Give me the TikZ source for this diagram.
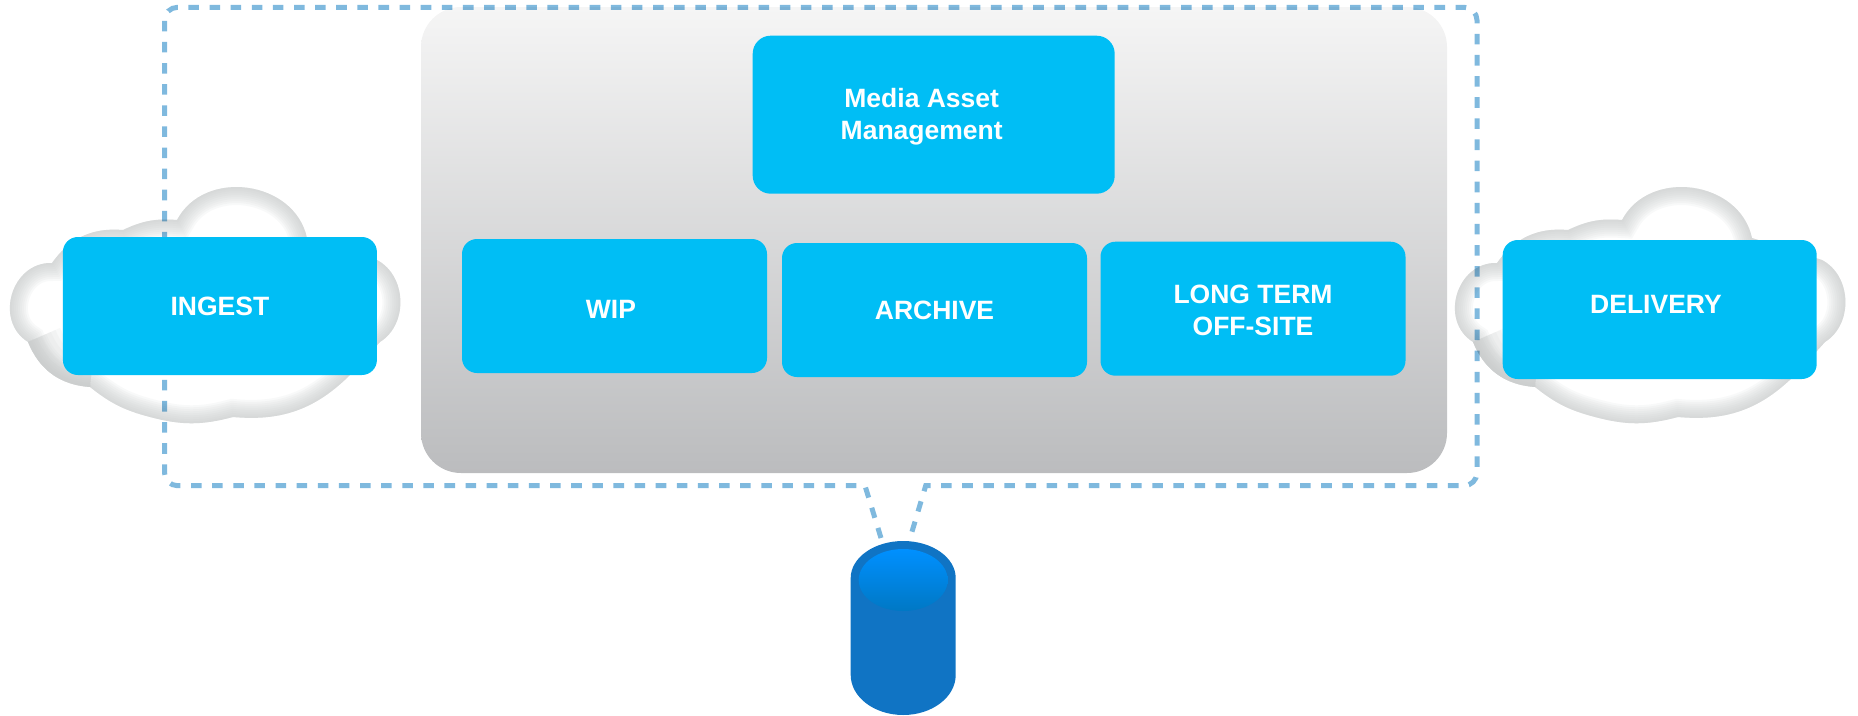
\documentclass[tikz,border=0pt]{standalone}
\usepackage{fontspec}
\setmainfont{Liberation Sans}
\usetikzlibrary{shapes.geometric}
\definecolor{boxblue}{HTML}{00BEF5}
\definecolor{dashblue}{HTML}{7FB9DE}
\definecolor{storeblue}{HTML}{1074C4}
\definecolor{storelight}{HTML}{0090FF}
\definecolor{storedark}{HTML}{0078C4}
\definecolor{cloudgray}{HTML}{C4C7C7}
\definecolor{paneltop}{HTML}{F5F5F5}
\definecolor{panelbottom}{HTML}{BBBCBE}
\newcommand{\cloudoutline}{
    (28,342) to[bend left=75, looseness=1.25] (52,263)
    to[bend left=30] (123,230)
    to[bend left=15] (177,220)
    to[bend left=70, looseness=1.15] (307,238)
    -- (377,260)
    to[bend left=60, looseness=1.05] (380,342)
    -- (350,375)
    to[bend left=25] (233,417)
    to[bend left=15] (150,417)
    to[bend left=12] (90,387)
    to[bend left=32] (28,342) -- cycle}
\newcommand{\drawcloud}[1]{
    \begin{scope}[shift={(#1,0)}]
        \clip \cloudoutline;
        \fill[white] \cloudoutline;
        \foreach \w in {36,32,...,4}
            \draw[cloudgray, opacity=0.1, line width=\w pt] \cloudoutline;
        \foreach \w in {70,60,...,20}
            \draw[cloudgray, opacity=0.1, line width=\w pt] (90,387) to[bend left=32] (28,342);
    \end{scope}
}

\begin{document}
\begin{tikzpicture}[
    x=1pt, y=-1pt,
    every node/.style = {inner sep=0pt, outer sep=0pt},
    boxnode/.style = {fill=boxblue, rounded corners=15pt,
        minimum width=305pt, minimum height=134pt},
    boxtext/.style = {text=white, align=center,
        font=\fontsize{26.5}{32}\selectfont\bfseries},
    boundary/.style = {dashblue, line width=5pt, dash pattern=on 10.56pt off 10.56pt,
        blend mode=multiply}
    ]
    \useasboundingbox (0,0) rectangle (1858,715);

    \node (panel) at (934,240) [minimum width=1026pt, minimum height=466pt,
        rounded corners=40pt, top color=paneltop, bottom color=panelbottom] {};

    \drawcloud{0}
    \drawcloud{1445}

    % storage cylinder
    \fill[storeblue] (850.7,578) .. controls (850.7,557.6) and (874.2,541) .. (903.2,541)
        .. controls (932.2,541) and (955.7,557.6) .. (955.7,578) -- (955.7,675)
        .. controls (955.7,697) and (932.2,715) .. (903.2,715)
        .. controls (874.2,715) and (850.7,697) .. (850.7,675) -- cycle;
    \node (storetop) at (903.2,580) [ellipse, minimum width=89pt, minimum height=62pt,
        top color=storelight, bottom color=storedark] {};

    \coordinate (linkleft) at (881,538);
    \coordinate (linkright) at (911,535);
    \draw[boundary] (linkleft) -- (865,485.7) [rounded corners=13pt] -- (164.5,485.7) -- (164.5,7.3)
        -- (1477,7.3) -- (1477,485.7) [sharp corners] -- (925.7,485.7) -- (linkright);

    \node[boxnode, minimum width=314pt, minimum height=138pt] (ingest) at (219.9,306) {};
    \node[boxnode, minimum width=314pt, minimum height=139pt] (delivery) at (1659.7,309.5) {};
    \node[boxnode, minimum width=362pt, minimum height=158pt, rounded corners=18pt] (mam) at (933.7,114.7) {};
    \node[boxnode] (wip) at (614.5,306) {};
    \node[boxnode] (archive) at (934.5,310) {};
    \node[boxnode] (longterm) at (1253,308.7) {};

    \node[boxtext] (ingesttext) at (219.9,306) {INGEST};
    \node[boxtext] (deliverytext) at (1656,304.5) {DELIVERY};
    \node[boxtext] (mamtext) at (921.7,116.7) {Media Asset\\Management};
    \node[boxtext] (wiptext) at (611,309.5) {WIP};
    \node[boxtext] (archivetext) at (934.5,310) {ARCHIVE};
    \node[boxtext] (longtermtext) at (1253,310.5) {LONG TERM\\OFF-SITE};
\end{tikzpicture}
\end{document}
